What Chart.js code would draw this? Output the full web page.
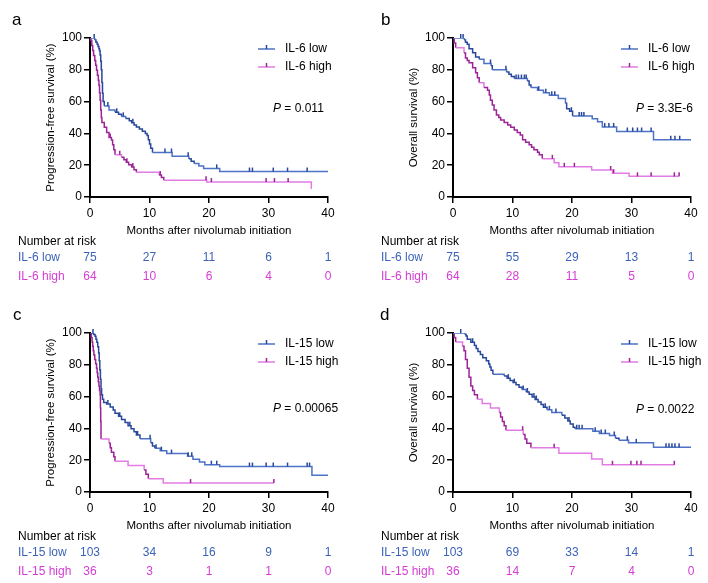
<!DOCTYPE html>
<html>
<head>
<meta charset="utf-8">
<title>IL-6 / IL-15 survival</title>
<script src="https://cdn.jsdelivr.net/npm/chart.js@4.4.0/dist/chart.umd.min.js"></script>
<style>
  html, body { margin: 0; padding: 0; background: #fff; }
  #wrap { position: relative; width: 708px; height: 583px; overflow: hidden; background: #fff; }
  #wrap canvas { position: absolute; }
</style>
</head>
<body>
<div id="wrap">
  <canvas id="panelA" width="354" height="288" style="left:0px;top:0px"></canvas>
  <canvas id="panelB" width="345" height="288" style="left:363px;top:0px"></canvas>
  <canvas id="panelC" width="354" height="288" style="left:0px;top:295px"></canvas>
  <canvas id="panelD" width="345" height="288" style="left:363px;top:295px"></canvas>
</div>
<script>
// axis ticks
const monthTicks = [0, 10, 20, 30, 40];
const percentTicks = [0, 20, 40, 60, 80, 100];

// a: progression-free survival by IL-6 ([month, % surviving] after each step)
const pfsIl6Low = [[0,100],[0.8,98.7],[1.0,97.3],[1.2,96],[1.35,94.7],[1.5,93.3],[1.6,92],[1.7,89.3],[1.8,85.3],[1.9,80],[2.0,72],[2.1,65.3],[2.2,60],[2.4,57.3],[3.2,54.7],[4.2,53.3],[4.8,52],[5.3,50.7],[6.0,49.3],[6.6,48],[7.0,46.7],[7.4,45.3],[7.8,44],[8.3,42.7],[8.8,41.3],[9.3,40],[9.6,38.7],[9.8,36],[10.0,33.3],[10.2,30.7],[10.5,28],[13.8,25.6],[16.6,24],[17.0,22.5],[17.5,21],[18.3,19.5],[19.1,18],[21.8,16],[40,16]];
const pfsIl6LowCensor = [0.7, 3.0, 4.5, 5.6, 7.2, 12.6, 13.7, 16.5, 21.3, 26.8, 27.3, 30.8, 33.2, 36.5];
const pfsIl6High = [[0,100],[0.15,98.4],[0.3,95.3],[0.45,92.2],[0.6,89],[0.8,85.9],[0.95,82.8],[1.1,79.7],[1.25,76.6],[1.4,73.4],[1.5,70.3],[1.6,65.6],[1.7,60.9],[1.8,54.7],[1.9,50],[2.0,46.9],[2.4,43.8],[2.8,40.6],[3.2,37.5],[3.6,35.9],[3.8,32.8],[4.0,29.7],[4.2,26.6],[5.3,25],[5.7,23.4],[6.1,21.9],[6.5,20.3],[7.0,18.8],[7.4,17.2],[7.8,15.6],[11.6,13.9],[12.0,12.2],[12.4,10.5],[19.6,9.4],[37.2,5]];
const pfsIl6HighCensor = [3.4, 5.0, 6.2, 7.2, 11.8, 19.5, 20.4, 29.6, 31.0, 33.3];
const riskPfsIl6Low = [75, 27, 11, 6, 1];
const riskPfsIl6High = [64, 10, 6, 4, 0];

// b: overall survival by IL-6
const osIl6Low = [[0,100],[1.9,98.7],[2.1,97.3],[2.4,96],[2.7,93.3],[3.3,90.7],[3.8,88],[4.4,86.7],[5.2,84],[6.4,82.6],[6.6,80],[9.0,78.6],[9.4,77.2],[9.8,75.8],[10.3,74.5],[12.5,72.9],[12.8,70.5],[13.1,68.9],[14.2,67.2],[15.2,65.6],[16.2,64],[17.7,62],[18.9,59],[19.1,55.5],[19.6,54],[20.1,51],[23.4,49.2],[24.3,47.4],[25.1,44],[27.5,41.2],[33.7,36],[40,36]];
const osIl6LowCensor = [1.3, 1.7, 6.3, 8.9, 10.6, 11.0, 11.5, 12.0, 12.3, 14.4, 15.6, 16.6, 17.1, 19.9, 21.2, 21.6, 22.0, 25.5, 26.2, 27.0, 29.3, 30.2, 31.0, 31.7, 33.3, 36.6, 37.3, 38.1];
const osIl6High = [[0,100],[0.2,96.9],[0.45,93.8],[1.85,90.6],[2.1,87.5],[2.4,85.9],[2.7,84.4],[3.3,81.3],[3.8,78.1],[4.1,75],[4.4,71.9],[5.2,68.8],[5.8,67.2],[6.1,64.1],[6.3,60.9],[6.6,57.8],[6.9,54.7],[7.3,51.6],[7.7,50],[8.0,48.4],[8.6,46.9],[9.2,45.3],[9.7,43.8],[10.3,42.2],[10.8,40.6],[11.3,39],[11.7,36],[12.2,34.4],[12.8,32.8],[13.2,31.3],[13.6,29.7],[14.2,28.1],[14.5,26.5],[15.0,24],[17.0,21.5],[17.8,19],[23.3,17],[26.8,15],[29.6,13],[38.0,13]];
const osIl6HighCensor = [16.7, 18.7, 20.4, 26.5, 27.0, 31.0, 33.3, 37.2, 38.0];
const riskOsIl6Low = [75, 55, 29, 13, 1];
const riskOsIl6High = [64, 28, 11, 5, 0];

// c: progression-free survival by IL-15
const pfsIl15Low = [[0,100],[0.6,99],[0.85,98],[1.0,96.1],[1.15,94.2],[1.3,91.3],[1.45,87.4],[1.55,82.5],[1.65,76.7],[1.75,70.9],[1.85,65],[1.95,61.2],[2.1,58.3],[2.3,56.3],[2.8,55.3],[3.4,53.4],[3.9,51.5],[4.2,49.5],[4.8,47.6],[5.3,45.6],[5.9,43.7],[6.4,41.7],[6.9,39.8],[7.4,37.9],[7.8,35.9],[8.4,33.5],[10.2,31],[10.5,29],[10.9,27.5],[11.8,26],[12.9,24.2],[16.4,22.5],[17.3,20.6],[18.4,18.8],[19.3,17.2],[21.8,16],[37.3,10.5],[40,10.5]];
const pfsIl15LowCensor = [0.5, 3.0, 5.0, 6.7, 8.0, 10.1, 11.1, 12.0, 13.7, 16.5, 17.1, 20.4, 21.3, 26.8, 27.3, 29.6, 30.8, 33.2, 36.5, 36.9];
const pfsIl15High = [[0,100],[0.2,97.2],[0.35,94.4],[0.45,91.7],[0.55,88.9],[0.65,86.1],[0.8,83.3],[0.95,80.6],[1.1,77.8],[1.2,75],[1.3,72.2],[1.4,69.4],[1.5,66.7],[1.6,63.9],[1.7,61.1],[1.75,52.8],[1.8,44.4],[1.85,33.3],[3.2,30.6],[3.4,27.8],[3.6,25],[4.0,22.2],[4.2,19.4],[6.4,16.7],[9.1,13.9],[9.4,11.1],[9.8,8.3],[12.3,5.6],[30.9,5.6]];
const pfsIl15HighCensor = [16.9, 30.9];
const riskPfsIl15Low = [103, 34, 16, 9, 1];
const riskPfsIl15High = [36, 3, 1, 1, 0];

// d: overall survival by IL-15
const osIl15Low = [[0,100],[2.0,99],[2.2,98.1],[2.4,96.1],[3.0,94.2],[3.6,92.2],[3.9,90.3],[4.2,88.3],[4.6,86.4],[5.0,84.4],[5.6,82.5],[6.0,80.5],[6.2,78.6],[6.4,76.6],[6.7,74],[8.6,72.9],[9.1,71.6],[9.6,70.2],[10.1,68.8],[10.6,67.4],[11.1,65.9],[11.6,64.4],[12.3,62.9],[12.8,61.4],[13.3,59.8],[13.8,58.2],[14.3,56.6],[14.8,55],[15.2,53.3],[15.8,51.7],[16.6,50],[18.3,48.3],[18.8,46.5],[19.3,44.6],[19.7,42.7],[20.2,40.8],[20.5,39.8],[23.5,38.2],[24.6,36.8],[26.3,35.5],[27.3,33.8],[27.9,32.6],[29.5,30.9],[33.7,28.2],[40,28.2]];
const osIl15LowCensor = [1.3, 3.3, 9.3, 10.3, 11.8, 12.5, 13.6, 14.0, 15.5, 16.2, 17.3, 19.5, 20.8, 21.2, 21.7, 23.9, 24.9, 25.6, 27.1, 29.3, 30.8, 35.8, 36.3, 36.8, 37.3, 38.0];
const osIl15High = [[0,100],[0.2,97.2],[0.45,94.4],[1.6,91.7],[1.85,88.9],[2.1,83.3],[2.4,77.8],[2.7,72.2],[3.0,66.7],[3.3,63.9],[3.6,61.1],[4.1,58.3],[4.9,55.6],[6.3,52.8],[7.8,50],[8.0,47.2],[8.3,44.4],[8.6,41.7],[8.9,38.9],[11.8,36.1],[12.1,33.3],[12.4,30.6],[13.1,27.8],[17.8,24.3],[23.3,20.7],[25.1,17.1],[37.2,17.1]];
const osIl15HighCensor = [11.7, 17.0, 26.8, 29.9, 30.9, 31.6, 37.2];
const riskOsIl15Low = [103, 69, 33, 14, 1];
const riskOsIl15High = [36, 14, 7, 4, 0];

const FONT = '"Liberation Sans", Arial, Helvetica, sans-serif';
const BLUE = '#4d72c6', BLUE_DARK = '#28489b', BLUE_TEXT = '#3c63b8';
const PINK = '#e27ce2', PINK_DARK = '#9c2497', PINK_TEXT = '#d53cd5';

// the four panels, keyed by canvas id
const panels = {
  panelA: { letter: 'a', letterX: 12, yTitle: 'Progression-free survival (%)', groups: ['IL-6 low', 'IL-6 high'],
            low: pfsIl6Low, lowCensor: pfsIl6LowCensor, high: pfsIl6High, highCensor: pfsIl6HighCensor,
            riskLow: riskPfsIl6Low, riskHigh: riskPfsIl6High, p: '0.011', pY: 109 },
  panelB: { letter: 'b', letterX: 18, yTitle: 'Overall survival (%)', groups: ['IL-6 low', 'IL-6 high'],
            low: osIl6Low, lowCensor: osIl6LowCensor, high: osIl6High, highCensor: osIl6HighCensor,
            riskLow: riskOsIl6Low, riskHigh: riskOsIl6High, p: '3.3E-6', pY: 109 },
  panelC: { letter: 'c', letterX: 13, yTitle: 'Progression-free survival (%)', groups: ['IL-15 low', 'IL-15 high'],
            low: pfsIl15Low, lowCensor: pfsIl15LowCensor, high: pfsIl15High, highCensor: pfsIl15HighCensor,
            riskLow: riskPfsIl15Low, riskHigh: riskPfsIl15High, p: '0.00065', pY: 114 },
  panelD: { letter: 'd', letterX: 17, yTitle: 'Overall survival (%)', groups: ['IL-15 low', 'IL-15 high'],
            low: osIl15Low, lowCensor: osIl15LowCensor, high: osIl15High, highCensor: osIl15HighCensor,
            riskLow: riskOsIl15Low, riskHigh: riskOsIl15High, p: '0.0022', pY: 115 }
};

// survival value of a step curve at month t
function survivalAt(curve, t) {
  let s = curve[0][1];
  for (const [x, y] of curve) {
    if (x <= t) s = y; else break;
  }
  return s;
}

function curveSet(curve, light, dark) {
  return {
    data: curve.map(([x, y]) => ({ x, y })),
    stepped: true,
    borderColor: light,
    borderWidth: 1.5,
    pointRadius: 0,
    order: 1,
    // steep stretches look darker in the original
    segment: { borderColor: c => (c.p1.parsed.x - c.p0.parsed.x < 0.7 ? dark : light) }
  };
}

function censorSet(curve, times, dark) {
  return {
    data: times.map(t => ({ x: t, y: survivalAt(curve, t) })),
    showLine: false,
    pointStyle: 'dash',
    rotation: -90,
    pointRadius: 4,
    pointBorderWidth: 1.5,
    pointBorderColor: dark,
    pointBackgroundColor: dark,
    clip: false,
    order: 0
  };
}

// letter, legend, p value and the number-at-risk table
const panelTextPlugin = {
  id: 'panelText',
  afterDraw(chart) {
    const p = panels[chart.canvas.id];
    const ctx = chart.ctx;
    const xs = chart.scales.x;
    ctx.save();
    ctx.fillStyle = '#000';
    ctx.textAlign = 'left';
    ctx.textBaseline = 'alphabetic';
    ctx.font = '17px ' + FONT;
    ctx.fillText(p.letter, p.letterX, 25);

    ctx.font = '12px ' + FONT;
    ctx.textBaseline = 'middle';
    [[p.groups[0], BLUE, BLUE_DARK, 49], [p.groups[1], PINK, PINK_DARK, 67]].forEach(([label, c, dark, y]) => {
      ctx.lineWidth = 1.5;
      ctx.strokeStyle = c;
      ctx.beginPath(); ctx.moveTo(258, y); ctx.lineTo(275, y); ctx.stroke();
      ctx.strokeStyle = dark;
      ctx.beginPath(); ctx.moveTo(266.5, y); ctx.lineTo(266.5, y - 4); ctx.stroke();
      ctx.fillStyle = '#000';
      ctx.fillText(label, 285, y);
    });

    ctx.font = 'italic 12px ' + FONT;
    ctx.fillText('P', 273, p.pY);
    const pw = ctx.measureText('P').width;
    ctx.font = '12px ' + FONT;
    ctx.fillText(' = ' + p.p, 273 + pw, p.pY);

    ctx.fillText('Number at risk', 18, 242);
    [[p.groups[0], p.riskLow, BLUE_TEXT, 258], [p.groups[1], p.riskHigh, PINK_TEXT, 277]].forEach(([label, counts, col, y]) => {
      ctx.fillStyle = col;
      ctx.textAlign = 'left';
      ctx.fillText(label, 18, y);
      ctx.textAlign = 'center';
      counts.forEach((n, i) => ctx.fillText(String(n), xs.getPixelForValue(monthTicks[i]), y));
    });
    ctx.restore();
  }
};

function makePanel(id) {
  const p = panels[id];
  const canvas = document.getElementById(id);
  const axisFont = { family: FONT, size: 12 };
  const titleFont = { family: FONT, size: 11.5 };
  const grid = { drawOnChartArea: false, drawTicks: true, tickLength: 6, color: '#000', lineWidth: 1.5 };
  const border = { display: true, color: '#000', width: 2 };

  new Chart(canvas, {
    type: 'line',
    data: {
      datasets: [
        censorSet(p.low, p.lowCensor, BLUE_DARK),
        censorSet(p.high, p.highCensor, PINK_DARK),
        curveSet(p.low, BLUE, BLUE_DARK),
        curveSet(p.high, PINK, PINK_DARK)
      ]
    },
    options: {
      responsive: false,
      animation: false,
      events: [],
      layout: { padding: { left: 0, top: 38, right: canvas.width - 328, bottom: 0 } },
      plugins: { legend: { display: false }, tooltip: { enabled: false } },
      scales: {
        x: {
          type: 'linear', min: 0, max: 40,
          afterBuildTicks: s => { s.ticks = monthTicks.map(v => ({ value: v })); },
          afterFit: s => { s.height = canvas.height - 197; },
          grid, border,
          ticks: { color: '#000', font: axisFont, padding: 3, maxRotation: 0 },
          title: { display: true, text: 'Months after nivolumab initiation', color: '#000', font: titleFont, padding: { top: 0, bottom: 50 } }
        },
        y: {
          type: 'linear', min: 0, max: 100,
          afterBuildTicks: s => { s.ticks = percentTicks.map(v => ({ value: v })); },
          afterFit: s => { s.width = 90; },
          grid, border,
          ticks: { color: '#000', font: axisFont, padding: 2 },
          title: { display: true, text: p.yTitle, color: '#000', font: titleFont, padding: { top: 44, bottom: 0 } }
        }
      }
    },
    plugins: [panelTextPlugin]
  });
}

document.addEventListener('DOMContentLoaded', function () {
  Object.keys(panels).forEach(makePanel);
});
</script>
</body>
</html>
